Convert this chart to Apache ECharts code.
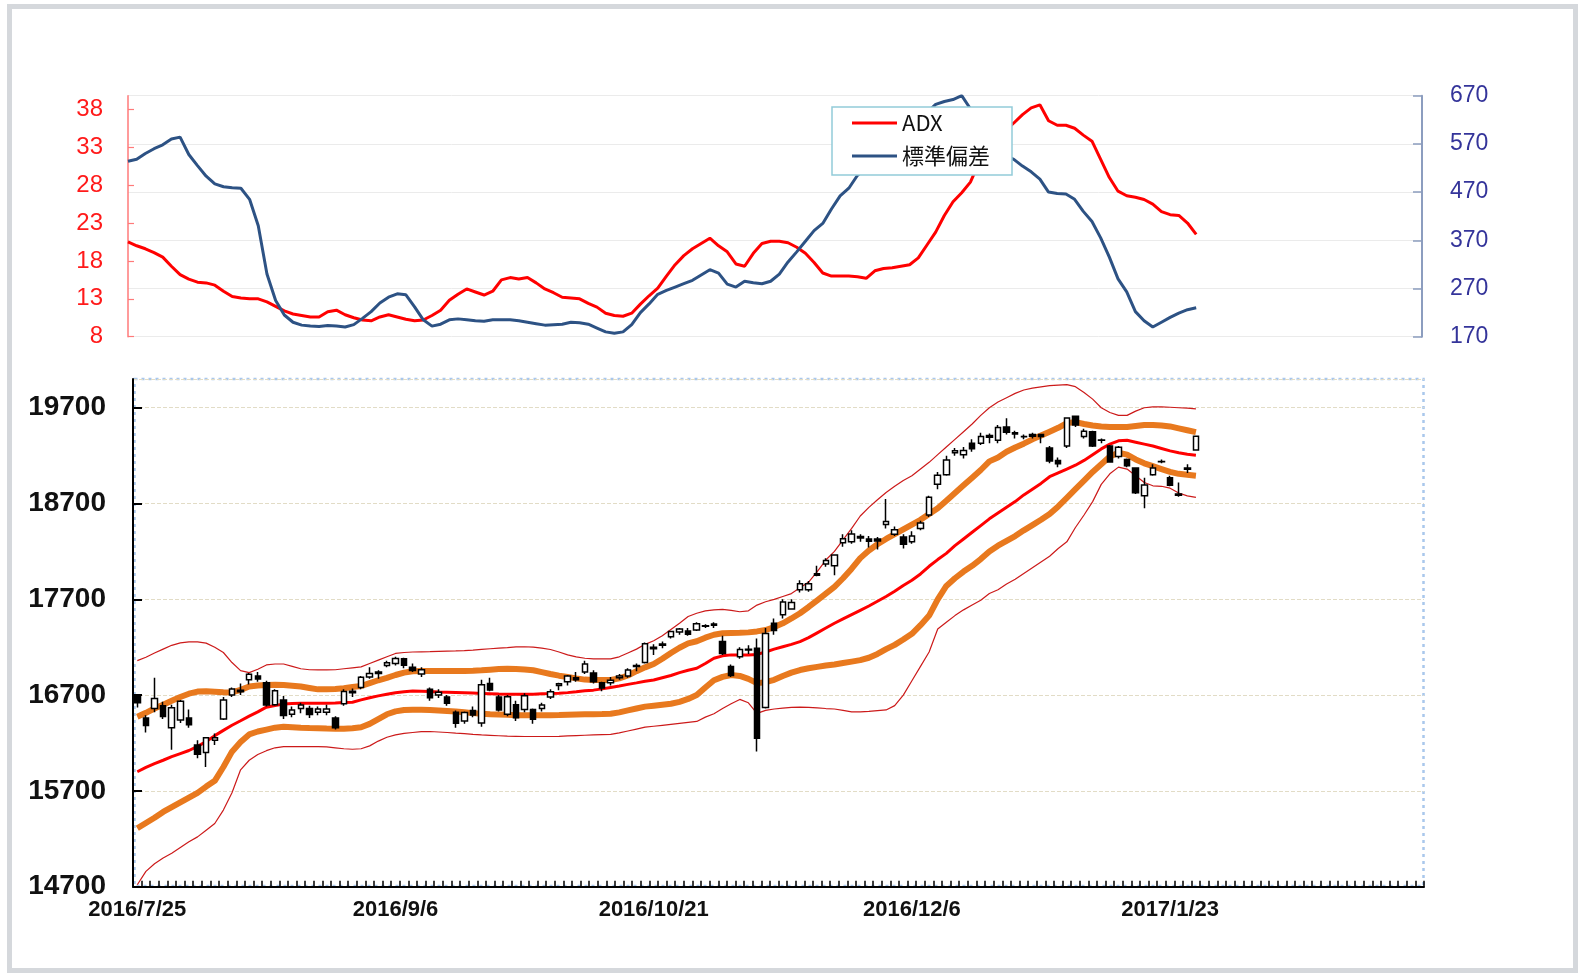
<!DOCTYPE html>
<html><head><meta charset="utf-8">
<script src="https://cdn.jsdelivr.net/npm/echarts@6/dist/echarts.min.js"></script>
<style>
html,body{margin:0;padding:0;background:#fff;}
#chart{position:absolute;left:0;top:0;width:1578px;height:973px;}
#frame{position:absolute;left:7px;top:4px;width:1561px;height:959px;border:5px solid #d5d8dc;pointer-events:none;}
</style></head>
<body><div id="chart"></div><div id="frame"></div>
<script>
const dates = ['2016/7/25','2016/7/26','2016/7/27','2016/7/28','2016/7/29','2016/8/1','2016/8/2','2016/8/3','2016/8/4','2016/8/5',
'2016/8/8','2016/8/9','2016/8/10','2016/8/12','2016/8/15','2016/8/16','2016/8/17','2016/8/18','2016/8/19','2016/8/22',
'2016/8/23','2016/8/24','2016/8/25','2016/8/26','2016/8/29','2016/8/30','2016/8/31','2016/9/1','2016/9/2','2016/9/5',
'2016/9/6','2016/9/7','2016/9/8','2016/9/9','2016/9/12','2016/9/13','2016/9/14','2016/9/15','2016/9/16','2016/9/20',
'2016/9/21','2016/9/23','2016/9/26','2016/9/27','2016/9/28','2016/9/29','2016/9/30','2016/10/3','2016/10/4','2016/10/5',
'2016/10/6','2016/10/7','2016/10/11','2016/10/12','2016/10/13','2016/10/14','2016/10/17','2016/10/18','2016/10/19','2016/10/20',
'2016/10/21','2016/10/24','2016/10/25','2016/10/26','2016/10/27','2016/10/28','2016/10/31','2016/11/1','2016/11/2','2016/11/4',
'2016/11/7','2016/11/8','2016/11/9','2016/11/10','2016/11/11','2016/11/14','2016/11/15','2016/11/16','2016/11/17','2016/11/18',
'2016/11/21','2016/11/22','2016/11/24','2016/11/25','2016/11/28','2016/11/29','2016/11/30','2016/12/1','2016/12/2','2016/12/5',
'2016/12/6','2016/12/7','2016/12/8','2016/12/9','2016/12/12','2016/12/13','2016/12/14','2016/12/15','2016/12/16','2016/12/19',
'2016/12/20','2016/12/21','2016/12/22','2016/12/26','2016/12/27','2016/12/28','2016/12/29','2016/12/30','2017/1/4','2017/1/5',
'2017/1/6','2017/1/10','2017/1/11','2017/1/12','2017/1/13','2017/1/16','2017/1/17','2017/1/18','2017/1/19','2017/1/20',
'2017/1/23','2017/1/24','2017/1/25','2017/1/26'];

const open = [16690,16460,16560,16590,16360,16440,16460,16180,16100,16230,
16450,16700,16750,16860,16900,16830,16600,16650,16500,16560,
16560,16520,16520,16460,16610,16740,16780,16890,16940,17010,
17030,17080,16990,16920,16760,16700,16680,16520,16430,16540,
16410,16820,16680,16500,16600,16550,16550,16560,16680,16800,
16840,16880,16940,16930,16830,16830,16880,16900,17010,17040,
17200,17220,17310,17360,17370,17380,17420,17430,17260,17000,
17100,17180,17190,16570,17450,17540,17600,17800,17800,17950,
18070,18050,18290,18300,18340,18330,18330,18480,18380,18350,
18300,18440,18580,18900,19000,19230,19210,19330,19330,19410,
19360,19500,19440,19400,19420,19420,19280,19150,19300,19610,
19400,19450,19360,19300,19190,19160,19070,18780,19000,19140,
18970,18800,19070,19260];
const high = [16710,16490,16880,16630,16600,16650,16550,16230,16260,16300,
16680,16780,16820,16930,16940,16850,16760,16690,16580,16620,
16590,16580,16600,16480,16760,16770,16900,16990,16960,17060,
17100,17090,17030,16990,16780,16760,16700,16540,16530,16580,
16860,16880,16700,16700,16640,16720,16560,16620,16760,16830,
16910,16940,17060,16960,16840,16890,16920,16980,17030,17250,
17230,17260,17370,17400,17400,17460,17440,17460,17320,17020,
17200,17220,17290,17400,17500,17700,17700,17900,17890,18050,
18130,18170,18380,18420,18380,18360,18350,18746,18460,18380,
18410,18520,18780,19030,19200,19280,19290,19370,19440,19430,
19520,19590,19460,19420,19440,19420,19300,19180,19600,19620,
19480,19460,19380,19310,19300,19170,19080,18970,19110,19160,
18990,18920,19110,19410];
const low = [16570,16310,16520,16450,16130,16410,16360,16040,15950,16180,
16440,16680,16700,16810,16840,16580,16590,16450,16470,16510,
16460,16490,16490,16340,16590,16680,16760,16870,16870,16990,
17010,16980,16940,16890,16640,16670,16590,16360,16400,16470,
16370,16740,16530,16480,16430,16520,16400,16530,16660,16750,
16800,16840,16920,16820,16740,16800,16860,16880,16950,17030,
17120,17190,17290,17330,17320,17370,17400,17400,17120,16890,
17080,17130,16111,16560,17330,17500,17590,17770,17780,17940,
18040,17950,18250,18280,18300,18240,18220,18440,18360,18230,
18280,18420,18560,18850,18990,19200,19170,19240,19310,19330,
19330,19420,19380,19370,19380,19330,19120,19080,19280,19500,
19380,19290,19330,19130,19170,19080,18800,18650,18990,19120,
18880,18770,19020,19250];
const close = [16620,16383,16664,16476,16569,16635,16391,16083,16254,16254,
16650,16764,16735,16919,16869,16596,16745,16486,16545,16598,
16497,16555,16556,16360,16737,16725,16887,16926,16925,17037,
17081,17012,16958,16965,16672,16729,16614,16405,16519,16492,
16807,16754,16544,16683,16465,16693,16449,16598,16735,16819,
16899,16860,17024,16840,16774,16856,16900,16963,16998,17235,
17184,17234,17365,17391,17336,17446,17425,17442,17134,16905,
17177,17171,16251,17344,17374,17672,17668,17862,17862,17967,
18106,18162,18333,18381,18356,18307,18308,18513,18426,18274,
18360,18496,18765,18996,19155,19250,19253,19273,19401,19391,
19494,19444,19427,19396,19403,19401,19145,19114,19594,19520,
19454,19301,19364,19134,19287,19095,18813,18894,19072,19137,
18891,18787,19057,19402];

const mid = [15900,15945,15985,16020,16058,16090,16122,16165,16216,16277,
16332,16385,16432,16480,16525,16574,16592,16606,16612,16616,
16616,16616,16616,16618,16622,16626,16650,16672,16692,16710,
16725,16735,16742,16740,16737,16733,16730,16727,16724,16721,
16718,16715,16711,16710,16710,16710,16710,16713,16716,16720,
16726,16735,16745,16752,16765,16780,16795,16812,16828,16845,
16858,16882,16905,16935,16960,16980,17030,17085,17110,17120,
17120,17120,17125,17150,17180,17205,17230,17258,17300,17350,
17400,17450,17495,17540,17585,17630,17680,17730,17785,17845,
17900,17965,18045,18115,18180,18260,18330,18400,18470,18540,
18600,18660,18720,18790,18850,18910,18980,19020,19060,19100,
19150,19210,19270,19320,19355,19360,19340,19320,19300,19275,
19250,19230,19215,19205];
const up1 = [16475,16515,16560,16600,16640,16680,16715,16737,16740,16735,
16730,16728,16755,16790,16800,16806,16808,16805,16798,16790,
16775,16760,16760,16765,16772,16785,16795,16825,16855,16880,
16910,16935,16950,16953,16953,16953,16953,16953,16953,16955,
16960,16966,16972,16974,16972,16968,16960,16940,16920,16903,
16890,16875,16862,16858,16858,16858,16875,16905,16950,16990,
17025,17080,17140,17195,17240,17262,17300,17330,17345,17348,
17350,17355,17365,17380,17410,17450,17500,17555,17620,17690,
17760,17830,17920,18020,18130,18210,18275,18330,18380,18430,
18480,18530,18590,18650,18730,18810,18890,18970,19050,19140,
19180,19240,19285,19325,19370,19410,19450,19490,19540,19550,
19530,19515,19505,19500,19500,19500,19510,19520,19520,19515,
19505,19485,19465,19445];
const dn1 = [15310,15365,15420,15480,15530,15580,15630,15680,15745,15805,
15950,16110,16210,16290,16320,16340,16360,16370,16365,16360,
16357,16355,16352,16350,16350,16355,16365,16400,16450,16500,
16530,16545,16548,16548,16545,16540,16535,16528,16520,16512,
16505,16500,16497,16494,16491,16490,16490,16490,16490,16492,
16495,16498,16500,16500,16502,16505,16520,16540,16560,16580,
16590,16600,16610,16630,16660,16700,16780,16855,16890,16910,
16900,16870,16825,16835,16860,16900,16935,16962,16980,16995,
17010,17020,17035,17050,17065,17090,17130,17180,17225,17280,
17340,17430,17530,17700,17840,17920,17990,18050,18120,18200,
18260,18310,18360,18420,18475,18530,18590,18670,18760,18850,
18940,19030,19110,19190,19230,19210,19160,19120,19090,19060,
19030,19010,19000,18990];
const up2 = [17060,17095,17140,17180,17220,17245,17255,17255,17243,17200,
17145,17040,16955,16935,16970,17015,17025,17025,17000,16975,
16965,16963,16963,16965,16975,16985,16995,17030,17065,17100,
17135,17145,17150,17152,17154,17157,17160,17162,17165,17170,
17178,17184,17190,17196,17203,17205,17200,17190,17176,17150,
17120,17100,17085,17079,17079,17079,17100,17140,17180,17230,
17268,17320,17385,17450,17520,17555,17580,17590,17595,17585,
17570,17580,17640,17675,17700,17730,17760,17820,17880,17990,
18110,18200,18320,18440,18570,18660,18740,18816,18880,18940,
18990,19060,19130,19210,19290,19370,19450,19530,19620,19700,
19760,19805,19850,19885,19905,19918,19930,19937,19942,19920,
19860,19790,19700,19650,19620,19620,19665,19700,19710,19710,
19705,19700,19695,19688];
const dn2 = [14720,14860,14940,15000,15050,15110,15170,15220,15290,15360,
15500,15680,15920,16020,16080,16120,16150,16163,16163,16163,
16163,16163,16160,16150,16140,16135,16140,16170,16220,16260,
16285,16300,16310,16318,16320,16315,16310,16303,16298,16290,
16284,16280,16276,16272,16270,16268,16268,16268,16268,16270,
16274,16278,16281,16284,16287,16290,16305,16325,16345,16365,
16375,16385,16395,16405,16415,16425,16470,16505,16560,16610,
16655,16620,16510,16540,16555,16565,16572,16575,16572,16566,
16560,16555,16540,16525,16525,16530,16538,16545,16590,16700,
16850,17000,17150,17390,17460,17530,17590,17640,17690,17760,
17800,17860,17910,17970,18030,18090,18150,18230,18300,18450,
18580,18720,18900,19010,19080,19060,18990,18920,18885,18880,
18860,18810,18780,18765];

const adx = [20.5,20.0,19.6,19.1,18.5,17.3,16.2,15.6,15.2,15.1,
14.8,14.0,13.3,13.1,13.0,13.0,12.6,12.0,11.4,11.0,
10.8,10.6,10.6,11.3,11.5,10.9,10.5,10.2,10.1,10.6,
10.9,10.6,10.3,10.1,10.2,10.8,11.5,12.8,13.6,14.3,
13.9,13.5,14.0,15.5,15.8,15.6,15.8,15.1,14.3,13.8,
13.2,13.1,13.0,12.4,11.9,11.1,10.8,10.7,11.1,12.3,
13.4,14.4,16.0,17.5,18.7,19.6,20.3,21.0,20.0,19.2,
17.6,17.3,19.0,20.3,20.6,20.6,20.4,19.8,19.0,17.8,
16.4,16.0,16.0,16.0,15.9,15.7,16.7,17.0,17.1,17.3,
17.5,18.4,20.1,21.8,24.0,25.8,27.0,28.4,31.0,32.6,
33.8,35.2,36.2,37.3,38.2,38.6,36.5,35.9,35.9,35.5,
34.6,33.8,31.4,29.0,27.2,26.6,26.4,26.1,25.5,24.5,
24.1,24.0,23.0,21.5];
const sd = [534,538,550,560,568,580,584,548,525,503,
487,481,479,478,455,400,300,245,215,200,
194,192,191,193,192,190,195,208,222,240,
252,259,257,232,205,192,196,205,207,205,
203,202,205,205,205,203,200,197,194,195,
196,200,199,196,188,180,177,180,195,220,
238,258,266,273,280,287,298,309,302,279,
273,285,282,280,285,300,325,346,368,390,
405,435,462,478,505,520,538,556,576,590,
603,623,635,652,658,662,670,643,600,570,
555,546,538,524,512,497,470,467,466,455,
430,409,375,335,290,263,222,203,190,200,
210,219,226,230];

const N_SLOTS = 150;
const cats = Array.from({length: N_SLOTS}, (_, i) => i < dates.length ? dates[i] : ('#' + i));
const ohlc = dates.map((d, i) => [open[i], close[i], low[i], high[i]]);

const FONT = "'Liberation Sans', Arial, sans-serif";
const chart = echarts.init(document.getElementById('chart'), null, {renderer: 'canvas'});

function bandLine(data, color, width) {
  return {type: 'line', xAxisIndex: 1, yAxisIndex: 2, data: data, symbol: 'none', showSymbol: false,
    silent: true, lineStyle: {color: color, width: width}, itemStyle: {color: color}, z: 2};
}

chart.setOption({
  animation: false,
  backgroundColor: '#ffffff',
  textStyle: {fontFamily: FONT},
  grid: [
    {left: 128, top: 95.7, width: 1294, height: 241, containLabel: false, outerBoundsMode: 'none'},
    {left: 133, top: 379, width: 1291, height: 507.7, containLabel: false, outerBoundsMode: 'none'}
  ],
  legend: {
    data: ['ADX', '標準偏差'],
    orient: 'vertical', left: 832, top: 107,
    backgroundColor: '#ffffff', borderColor: '#92cbd9', borderWidth: 1.5, borderRadius: 0,
    padding: [4, 22, 7, 20], itemGap: 9, itemWidth: 45, itemHeight: 3, icon: 'rect',
    textStyle: {fontSize: 22, lineHeight: 24, color: '#111', fontFamily: "'Noto Sans CJK JP', sans-serif"},
    selectedMode: false
  },
  xAxis: [
    {type: 'category', gridIndex: 0, data: cats, boundaryGap: false,
      axisLine: {show: false}, axisTick: {show: false}, axisLabel: {show: false}, splitLine: {show: false}},
    {type: 'category', gridIndex: 1, data: cats, boundaryGap: true,
      axisLine: {show: true, lineStyle: {color: '#000', width: 2}},
      axisTick: {show: true, inside: true, length: 6, interval: 0, lineStyle: {color: '#000', width: 1.5}},
      axisLabel: {interval: 29, margin: 12, fontSize: 22, fontWeight: 'bold', color: '#111', fontFamily: FONT,
        formatter: (v, i) => i < dates.length ? v : ''},
      splitLine: {show: false}}
  ],
  yAxis: [
    {type: 'value', gridIndex: 0, position: 'left', min: 8, max: 39.8, interval: 5,
      axisLine: {show: true, lineStyle: {color: '#ff7a7a', width: 1.5}},
      axisTick: {show: true, inside: true, length: 6, lineStyle: {color: '#ff7a7a', width: 1.2}},
      axisLabel: {color: '#ff1a1a', fontSize: 24, fontFamily: FONT, margin: 25, showMaxLabel: false,
        padding: [3, 0, 0, 0],
        formatter: v => ((v - 8) % 5 === 0 ? String(v) : '')},
      splitLine: {show: false}},
    {type: 'value', gridIndex: 0, position: 'right', min: 170, max: 670, interval: 100,
      axisLine: {show: true, lineStyle: {color: '#8c9dbf', width: 2}},
      axisTick: {show: true, inside: true, length: 9, lineStyle: {color: '#8c9dbf', width: 1.5}},
      axisLabel: {color: '#34349a', fontSize: 23, fontFamily: FONT, margin: 28, padding: [5, 0, 0, 0]},
      splitLine: {show: true, lineStyle: {color: '#ebebeb', width: 1}}},
    {type: 'value', gridIndex: 1, min: 14700, max: 20000, interval: 1000,
      axisLine: {show: true, lineStyle: {color: '#000', width: 2}},
      axisTick: {show: true, inside: true, length: 9, lineStyle: {color: '#000', width: 2}},
      axisLabel: {fontSize: 28, fontWeight: 'bold', color: '#111', fontFamily: FONT, margin: 27, showMaxLabel: false,
        padding: [6, 0, 0, 0],
        formatter: v => ((v - 14700) % 1000 === 0 ? String(v) : '')},
      splitLine: {show: true, lineStyle: {color: '#e2dcc6', type: 'dashed', width: 1}}}
  ],
  graphic: [
    {type: 'rect', silent: true, z: 0,
      shape: {x: 134.5, y: 379, width: 1289, height: 507},
      style: {fill: null, stroke: '#a9c7ec', lineWidth: 2.5, lineDash: [3, 4]}}
  ],
  series: [
    {name: 'ADX', type: 'line', xAxisIndex: 0, yAxisIndex: 0, data: adx, symbol: 'none', showSymbol: false,
      lineStyle: {color: '#ff0000', width: 3}, itemStyle: {color: '#ff0000'}},
    {name: '標準偏差', type: 'line', xAxisIndex: 0, yAxisIndex: 1, data: sd, symbol: 'none', showSymbol: false,
      lineStyle: {color: '#2d5284', width: 3}, itemStyle: {color: '#2d5284'}},
    Object.assign(bandLine(up2, '#cc1a1a', 1.2), {name: '+2σ'}),
    Object.assign(bandLine(dn2, '#cc1a1a', 1.2), {name: '-2σ'}),
    Object.assign(bandLine(up1, '#e8791e', 6), {name: '+1σ'}),
    Object.assign(bandLine(dn1, '#e8791e', 6), {name: '-1σ'}),
    Object.assign(bandLine(mid, '#ff0000', 3), {name: '移動平均'}),
    {name: '日経平均', type: 'candlestick', xAxisIndex: 1, yAxisIndex: 2, data: ohlc, barWidth: 6, z: 5,
      itemStyle: {color: '#ffffff', color0: '#000000', borderColor: '#000000', borderColor0: '#000000',
        borderColorDoji: '#000000', borderWidth: 1.5}}
  ]
});
</script>
</body></html>
